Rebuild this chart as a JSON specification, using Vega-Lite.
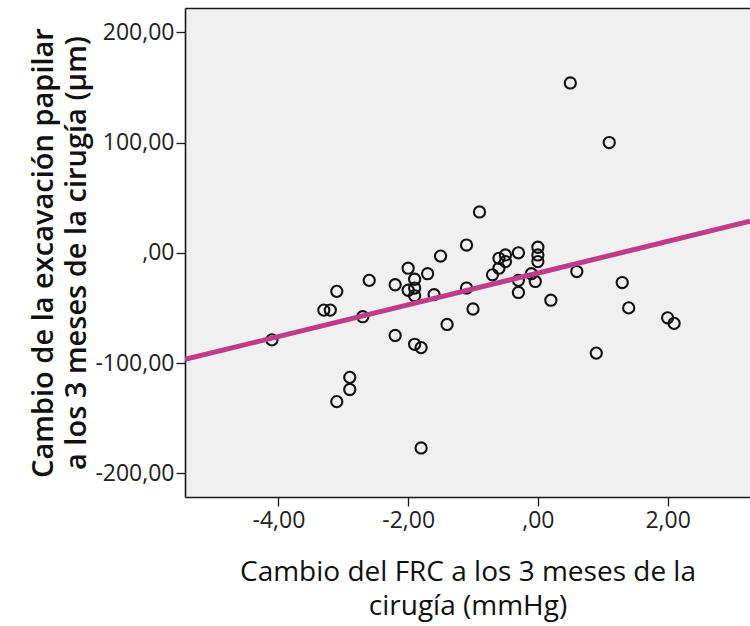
{
  "$schema": "https://vega.github.io/schema/vega-lite/v6.json",
  "autosize": "none",
  "width": 565,
  "height": 489,
  "padding": {"left": 185, "top": 8, "right": 0, "bottom": 129},
  "background": "white",
  "config": {
    "view": {"fill": "#f0f0f0", "stroke": null},
    "font": "Open Sans",
    "axis": {
      "grid": false,
      "domainColor": "#1a1a1a",
      "domainWidth": 1.6,
      "tickColor": "#1a1a1a",
      "tickWidth": 1.3,
      "tickSize": 9,
      "labelFont": "Open Sans",
      "labelFontSize": 23,
      "labelColor": "#222222",
      "titleFont": "Open Sans",
      "titleColor": "#111111",
      "labelExpr": "datum.value == 0 ? ',00' : replace(replace(format(datum.value, '.2f'), '.', ','), '\u2212', '-')"
    }
  },
  "datasets": {
    "points": [
      {"frc": 0.5, "excav": 154},
      {"frc": 1.1, "excav": 100},
      {"frc": -0.9, "excav": 37},
      {"frc": -1.1, "excav": 7},
      {"frc": -1.5, "excav": -3},
      {"frc": -2.0, "excav": -14},
      {"frc": -1.9, "excav": -24},
      {"frc": -1.7, "excav": -19},
      {"frc": -2.2, "excav": -29},
      {"frc": -2.6, "excav": -25},
      {"frc": -3.1, "excav": -35},
      {"frc": -3.3, "excav": -52},
      {"frc": -3.2, "excav": -52},
      {"frc": -2.7, "excav": -58},
      {"frc": -4.1, "excav": -79},
      {"frc": -2.2, "excav": -75},
      {"frc": -1.9, "excav": -83},
      {"frc": -1.8, "excav": -86},
      {"frc": -2.9, "excav": -113},
      {"frc": -2.9, "excav": -124},
      {"frc": -3.1, "excav": -135},
      {"frc": -1.8, "excav": -177},
      {"frc": -2.0, "excav": -34},
      {"frc": -1.9, "excav": -32},
      {"frc": -1.9, "excav": -39},
      {"frc": -1.6, "excav": -38},
      {"frc": -1.1, "excav": -32},
      {"frc": -1.0, "excav": -51},
      {"frc": -1.4, "excav": -65},
      {"frc": -0.7, "excav": -20},
      {"frc": -0.6, "excav": -5},
      {"frc": -0.6, "excav": -14},
      {"frc": -0.5, "excav": -2},
      {"frc": -0.5, "excav": -8},
      {"frc": -0.3, "excav": 0},
      {"frc": -0.3, "excav": -25},
      {"frc": -0.3, "excav": -36},
      {"frc": 0.0, "excav": 5},
      {"frc": 0.0, "excav": -2},
      {"frc": 0.0, "excav": -8},
      {"frc": -0.1, "excav": -19},
      {"frc": -0.04, "excav": -26},
      {"frc": 0.2, "excav": -43},
      {"frc": 0.6, "excav": -17},
      {"frc": 1.3, "excav": -27},
      {"frc": 1.4, "excav": -50},
      {"frc": 2.0, "excav": -59},
      {"frc": 2.1, "excav": -64},
      {"frc": 0.9, "excav": -91}
    ],
    "fit": [
      {"frc": -5.44, "excav": -96.7},
      {"frc": 3.27, "excav": 28.6}
    ]
  },
  "resolve": {"axis": {"x": "independent"}},
  "layer": [
    {
      "data": {"name": "points"},
      "mark": {"type": "point", "shape": "circle", "filled": false, "size": 125, "strokeWidth": 2.1, "color": "#111111", "opacity": 1},
      "encoding": {
        "x": {
          "field": "frc", "type": "quantitative",
          "scale": {"domain": [-5.44, 3.27], "nice": false, "zero": false},
          "axis": {
            "values": [-4, -2, 0, 2],
            "labelPadding": 3,
            "title": ["Cambio del FRC a los 3 meses de la", "cirugía (mmHg)"],
            "titleFontSize": 28,
            "titleFontWeight": "normal",
            "titlePadding": 26,
            "titleLineHeight": 34
          }
        },
        "y": {
          "field": "excav", "type": "quantitative",
          "scale": {"domain": [-221.5, 222], "nice": false, "zero": false},
          "axis": {
            "values": [-200, -100, 0, 100, 200],
            "labelPadding": 2,
            "title": ["Cambio de la excavación papilar", "a los 3 meses de la cirugía (µm)"],
            "titleFontSize": 29,
            "titleFontWeight": 600,
            "titlePadding": 3,
            "titleLineHeight": 33
          }
        }
      }
    },
    {
      "data": {"name": "fit"},
      "mark": {"type": "line", "color": "#c03c8a", "strokeWidth": 5, "clip": true},
      "encoding": {
        "x": {
          "field": "frc", "type": "quantitative",
          "axis": {"orient": "top", "labels": false, "ticks": false, "title": null, "domain": true}
        },
        "y": {"field": "excav", "type": "quantitative"}
      }
    }
  ]
}
